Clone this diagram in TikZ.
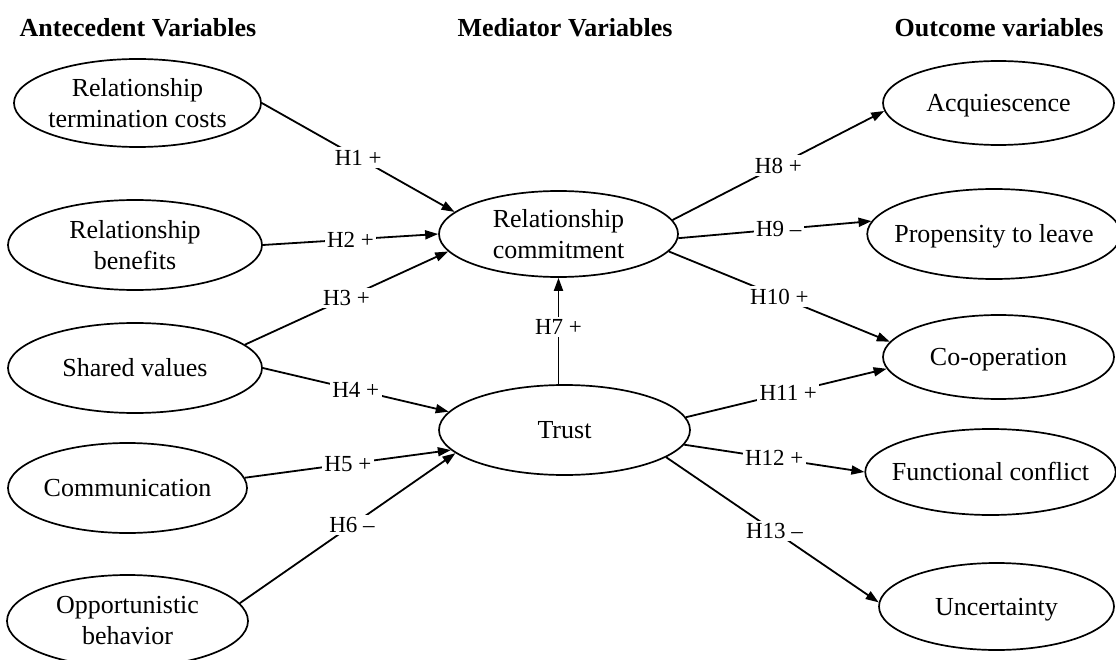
\documentclass[tikz,border=0pt]{standalone}
\usepackage{fontspec}
\setmainfont{Liberation Serif}
\usetikzlibrary{shapes.geometric,arrows.meta}

\begin{document}
\begin{tikzpicture}[x=1pt,y=-1pt,
  var/.style={ellipse, draw, line width=1.7pt, inner sep=-10pt, align=center,
    font=\fontsize{26}{31}\selectfont},
  oneline/.style={text height=20pt, text depth=3pt},
  head/.style={font=\fontsize{26}{31}\selectfont\bfseries, anchor=base, inner sep=0pt},
  link/.style={line width=1.8pt, -{Triangle[length=13pt,width=9pt]}},
  hyp/.style={fill=white, inner sep=2.5pt, font=\fontsize{23}{26}\selectfont}]
\useasboundingbox (0,0) rectangle (1116,660);

% column headings
\node[head] (hA) at (138,37) {Antecedent Variables};
\node[head] (hM) at (565,37) {Mediator Variables};
\node[head] (hO) at (999,37) {Outcome variables};

% antecedent variables
\node[var, minimum width=247pt, minimum height=88pt] (rtc) at (137.5,103) {Relationship\\termination costs};
\node[var, minimum width=254pt, minimum height=90pt] (rb)  at (135,245) {Relationship\\benefits};
\node[var, oneline, minimum width=254pt, minimum height=90pt] (sv)  at (135,368) {Shared values};
\node[var, oneline, minimum width=239pt, minimum height=90pt] (com) at (127.5,488) {Communication};
\node[var, minimum width=241pt, minimum height=92pt] (ob)  at (127.5,621) {Opportunistic\\behavior};

% mediator variables
\node[var, minimum width=239pt, minimum height=86pt] (rc) at (558.5,234) {Relationship\\commitment};
\node[var, oneline, minimum width=251pt, minimum height=90pt] (tr) at (564.5,430) {Trust};

% outcome variables
\node[var, oneline, minimum width=231pt, minimum height=84pt] (acq) at (998.5,103) {Acquiescence};
\node[var, oneline, minimum width=242pt, minimum height=90pt] (ptl) at (994,234) {Propensity to leave};
\node[var, oneline, minimum width=231pt, minimum height=84pt] (coo) at (998.5,357) {Co-operation};
\node[var, oneline, minimum width=247pt, minimum height=86pt] (fc)  at (990.5,472) {Functional conflict};
\node[var, oneline, minimum width=235pt, minimum height=87pt] (unc) at (996.5,606.5) {Uncertainty};

% hypothesised paths into the mediators
\draw[link] (rtc.east) -- node[hyp] {H1 +} (rc.168);
\draw[link] (rb.east)  -- node[hyp] {H2 +} (rc.west);
\draw[link] (sv.12)    -- node[hyp] {H3 +} (rc.189);
\draw[link] (sv.east)  -- node[hyp] {H4 +} (tr.171);
\draw[link] (com.5)    -- node[hyp] {H5 +} (tr.190);
\draw[link] (ob.9)     -- node[hyp, pos=0.52] {H6 –} (tr.192);
\draw[link] (tr.north -| rc.south) -- node[hyp, pos=0.54] {H7 +} (rc.south);

% hypothesised paths to the outcomes
\draw[link] (rc.7)   -- node[hyp] {H8 +}  (acq.184);
\draw[link] (rc.358) -- node[hyp, pos=0.52] {H9 –}  (ptl.174);
\draw[link] (rc.351) -- node[hyp] {H10 +} (coo.172);
\draw[link] (tr.6)   -- node[hyp, pos=0.51] {H11 +} (coo.186);
\draw[link] (tr.353) -- node[hyp] {H12 +} (fc.west);
\draw[link] (tr.345) -- node[hyp, pos=0.51] {H13 –} (unc.178);
\end{tikzpicture}
\end{document}
